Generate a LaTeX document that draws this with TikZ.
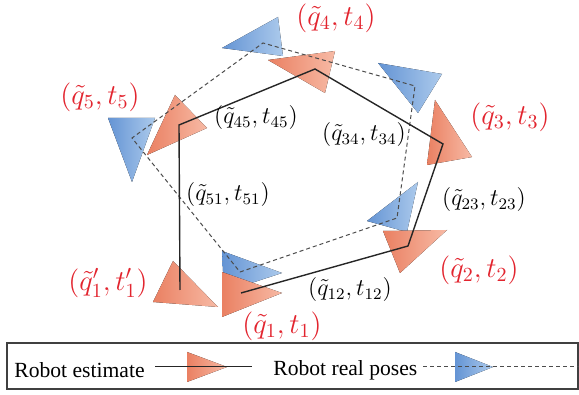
\documentclass[tikz,border=0pt]{standalone}
\usepackage{fontspec}
\newfontfamily\legendfont{Liberation Serif}
\definecolor{estdark}{RGB}{234,128,98}
\definecolor{estlight}{RGB}{247,186,165}
\definecolor{realdark}{RGB}{100,148,212}
\definecolor{reallight}{RGB}{172,202,236}
\definecolor{posered}{RGB}{226,36,46}

\begin{document}
\begin{tikzpicture}[
    x=0.5pt, y=-0.5pt,
    esttri/.style={left color=estdark, right color=estlight, draw=none},
    realtri/.style={left color=realdark, right color=reallight, draw=none},
    est/.style={draw=black!85, line width=0.7pt},
    real/.style={draw=black!70, line width=0.5pt, dash pattern=on 2pt off 1.5pt},
    pose/.style={text=posered, inner sep=0pt, font=\fontsize{14.5}{16}\selectfont},
    link/.style={text=black, inner sep=0pt, font=\fontsize{12}{14}\selectfont},
    legendtext/.style={inner sep=0pt, anchor=west, font=\legendfont\fontsize{10.8}{12}\selectfont},
    legendbox/.style={draw=black!75, line width=0.8pt}
]
\useasboundingbox (0,0) rectangle (579,395);

% real poses (blue)
\fill[realtri] (222,48) -- (278,17) -- (283,56) -- cycle;
\fill[realtri] (378,63) -- (442,74) -- (418,113) -- cycle;
\fill[realtri] (367,221) -- (418,182) -- (407,232) -- cycle;
\fill[realtri] (222,251) -- (282,273) -- (224,292) -- cycle;
\fill[realtri] (108,118) -- (155,118) -- (132,182) -- cycle;

% robot estimate (orange)
\fill[esttri] (268,60) -- (335,51) -- (325,93) -- cycle;
\fill[esttri] (435,100) -- (472,157) -- (427,165) -- cycle;
\fill[esttri] (383,231) -- (447,230) -- (400,273) -- cycle;
\fill[esttri] (222,272) -- (282,293) -- (222,317) -- cycle;
\fill[esttri] (153,302) -- (173,261) -- (218,307) -- cycle;
\fill[esttri] (175,95) -- (207,128) -- (147,155) -- cycle;

\coordinate (r1) at (240,272);
\coordinate (r2) at (397,218);
\coordinate (r3) at (415,86);
\coordinate (r4) at (263,43);
\coordinate (r5) at (132,138);

\coordinate (e1) at (241,293);
\coordinate (e2) at (408,246);
\coordinate (e3) at (443,144);
\coordinate (e4) at (315,69);
\coordinate (e5) at (179,125);
\coordinate (e1p) at (180,290);

\draw[real] (r1) -- (r2) -- (r3) -- (r4) -- (r5) -- cycle;
\draw[est] (e1) -- (e2) -- (e3) -- (e4) -- (e5) -- (e1p);

\node[pose] (p4) at (336,18) {$(\tilde{q}_4,t_4)$};
\node[pose] (p5) at (100,97) {$(\tilde{q}_5,t_5)$};
\node[pose] (p3) at (510,117) {$(\tilde{q}_3,t_3)$};
\node[pose] (p2) at (479,270) {$(\tilde{q}_2,t_2)$};
\node[pose] (p1) at (282,326) {$(\tilde{q}_1,t_1)$};
\node[pose] (p1p) at (108,283) {$(\tilde{q}'_1,t'_1)$};

\node[link] (l45) at (256,118) {$(\tilde{q}_{45},t_{45})$};
\node[link] (l34) at (364,135) {$(\tilde{q}_{34},t_{34})$};
\node[link] (l51) at (228,195) {$(\tilde{q}_{51},t_{51})$};
\node[link] (l23) at (484,200) {$(\tilde{q}_{23},t_{23})$};
\node[link] (l12) at (350,290) {$(\tilde{q}_{12},t_{12})$};

% legend
\draw[legendbox] (7,343) rectangle (578,389);
\node[legendtext] (lest) at (14,370) {Robot estimate};
\node[legendtext] (lreal) at (273,370) {Robot real poses};
\coordinate (a1) at (155,367);
\coordinate (a2) at (252,367);
\coordinate (b1) at (423,367);
\coordinate (b2) at (579,367);
\fill[esttri] (187,352) -- (227,367) -- (187,382) -- cycle;
\draw[est, line width=0.5pt] (a1) -- (a2);
\fill[realtri] (455,352) -- (493,367) -- (455,382) -- cycle;
\draw[real] (b1) -- (b2);

\end{tikzpicture}
\end{document}
